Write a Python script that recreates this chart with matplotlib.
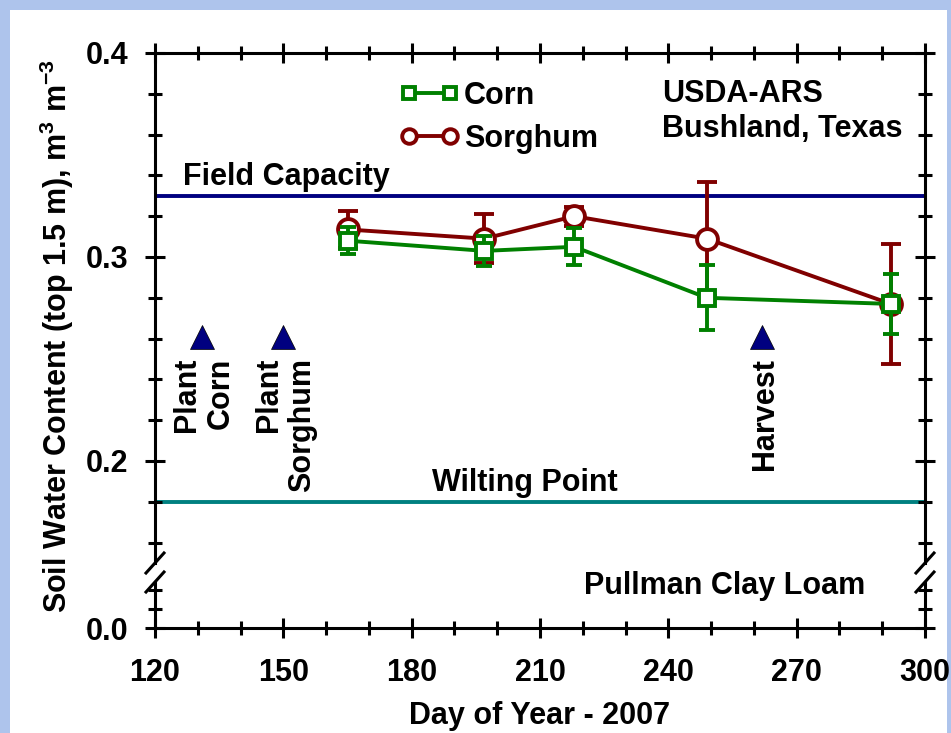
import matplotlib
matplotlib.use('Agg')
import matplotlib.pyplot as plt
from matplotlib.lines import Line2D
from matplotlib.patches import Rectangle
from matplotlib.ticker import MultipleLocator, FixedLocator

plt.rcParams['font.family'] = ['Liberation Sans', 'DejaVu Sans']
plt.rcParams['font.weight'] = 'bold'
plt.rcParams['mathtext.fontset'] = 'custom'
plt.rcParams['mathtext.rm'] = 'Liberation Sans:bold'
plt.rcParams['mathtext.bf'] = 'Liberation Sans:bold'
plt.rcParams['mathtext.default'] = 'bf'

# data
days = [165, 197, 218, 249, 292]
swc_corn = [0.308, 0.303, 0.305, 0.280, 0.277]
err_corn = [0.0065, 0.0072, 0.009, 0.016, 0.0145]
swc_sorghum = [0.3135, 0.309, 0.320, 0.309, 0.277]
err_sorghum = [0.009, 0.012, 0.0047, 0.028, 0.0295]

event_days = [131, 150, 262]
event_y = 0.261
event_labels = ['Plant\nCorn', 'Plant\nSorghum', 'Harvest']

field_capacity = 0.33
wilting_point = 0.18

green = '#008000'
red = '#800000'
navy = '#000080'
teal = '#008080'
fs = 22
lw = 2.8

fig = plt.figure(figsize=(9.51, 7.33), dpi=100, facecolor='#aec4ec')
fig.add_artist(Rectangle((10 / 951, 0), 937 / 951, 723 / 733,
                         transform=fig.transFigure, facecolor='white',
                         edgecolor='none', zorder=-10))

W, H = 951, 733
ax = fig.add_axes([155 / W, 1 - 563 / H, 770 / W, 510 / H])
axl = fig.add_axes([155 / W, 1 - 628 / H, 770 / W, 46 / H], sharex=ax)
for a in (ax, axl):
    a.patch.set_alpha(0)

# reference lines
ax.axhline(field_capacity, color=navy, lw=lw, zorder=1)
ax.axhline(wilting_point, color=teal, lw=lw, zorder=1)
ax.text(126.5, field_capacity + 0.002, 'Field Capacity', fontsize=fs,
        ha='left', va='bottom')
ax.text(206.5, wilting_point + 0.002, 'Wilting Point', fontsize=fs,
        ha='center', va='bottom')

# series
ax.errorbar(days, swc_sorghum, yerr=err_sorghum, color=red, lw=lw,
            marker='o', ms=15, mfc='white', mec=red, mew=lw,
            capsize=7, capthick=lw, elinewidth=lw, zorder=3)
ax.errorbar(days, swc_corn, yerr=err_corn, color=green, lw=lw,
            marker='s', ms=11, mfc='white', mec=green, mew=lw,
            capsize=5.5, capthick=lw, elinewidth=lw, zorder=4)

# events
ax.plot(event_days, [event_y] * len(event_days), ls='none', marker='^',
        ms=17, color=navy, mec='black', mew=0.5, zorder=5)
for d, lab in zip(event_days, event_labels):
    ax.text(d + 0.5, 0.2505, lab, fontsize=fs, rotation=90, ha='center',
            va='top', multialignment='right', linespacing=1.15)

ax.text(238.5, 0.3875, 'USDA-ARS\nBushland, Texas', fontsize=fs,
        ha='left', va='top', linespacing=1.22)

handles = [Line2D([], [], color=green, lw=lw, marker='s', ms=9,
                  mfc='white', mec=green, mew=lw),
           Line2D([], [], color=red, lw=lw, marker='o', ms=10.5,
                  mfc='white', mec=red, mew=lw)]
ax.legend(handles, ['Corn', 'Sorghum'], loc='upper left',
          bbox_to_anchor=(0.318, 0.945), frameon=False, fontsize=fs,
          handlelength=1.95, handletextpad=0.15, labelspacing=0.42,
          borderpad=0, borderaxespad=0, numpoints=2)

axl.text(286, 0.0438, 'Pullman Clay Loam', fontsize=fs, ha='right',
         va='center', clip_on=False)

# axes limits and ticks
ax.set_xlim(120, 300)
ax.set_ylim(0.15, 0.4)
axl.set_ylim(0, 0.048)

ax.xaxis.set_major_locator(MultipleLocator(30))
ax.xaxis.set_minor_locator(MultipleLocator(10))
ax.yaxis.set_major_locator(FixedLocator([0.2, 0.3, 0.4]))
ax.yaxis.set_minor_locator(FixedLocator([0.16, 0.18, 0.22, 0.24, 0.26, 0.28,
                                         0.32, 0.34, 0.36, 0.38]))
axl.yaxis.set_major_locator(FixedLocator([0.0]))
axl.yaxis.set_minor_locator(FixedLocator([0.02, 0.04]))
ax.yaxis.set_major_formatter(lambda v, p: f'{v:.1f}')
axl.yaxis.set_major_formatter(lambda v, p: f'{v:.1f}')

ax.spines['bottom'].set_visible(False)
axl.spines['top'].set_visible(False)
for a in (ax, axl):
    for s in a.spines.values():
        s.set_linewidth(2.2)
    a.tick_params(which='both', direction='inout', width=2.2,
                  left=True, right=True, labelsize=fs, pad=12)
    a.tick_params(which='major', length=15)
    a.tick_params(which='minor', length=10)
ax.tick_params(which='both', top=True, bottom=False, labelbottom=False)
axl.tick_params(which='both', top=False, bottom=True, labelbottom=True)
axl.tick_params(axis='x', which='major', pad=14)

# break marks
dx, dy_u, dy_l = 9 / 770, 10 / 510, 10 / 46
for x0 in (0, 1):
    ax.plot([x0 - dx, x0 + dx], [-dy_u, dy_u], transform=ax.transAxes,
            color='black', lw=2.2, clip_on=False)
    axl.plot([x0 - dx, x0 + dx], [1 - dy_l, 1 + dy_l],
             transform=axl.transAxes, color='black', lw=2.2, clip_on=False)

fig.text(540 / W, 1 - 716 / H, 'Day of Year - 2007', fontsize=fs,
         ha='center', va='center')
fig.text(57 / W, 1 - 336 / H,
         r'Soil Water Content (top 1.5 m), m$^{3}$ m$^{-3}$', fontsize=22,
         rotation=90, ha='center', va='center')

fig.savefig('out.png', dpi=100, facecolor=fig.get_facecolor())
